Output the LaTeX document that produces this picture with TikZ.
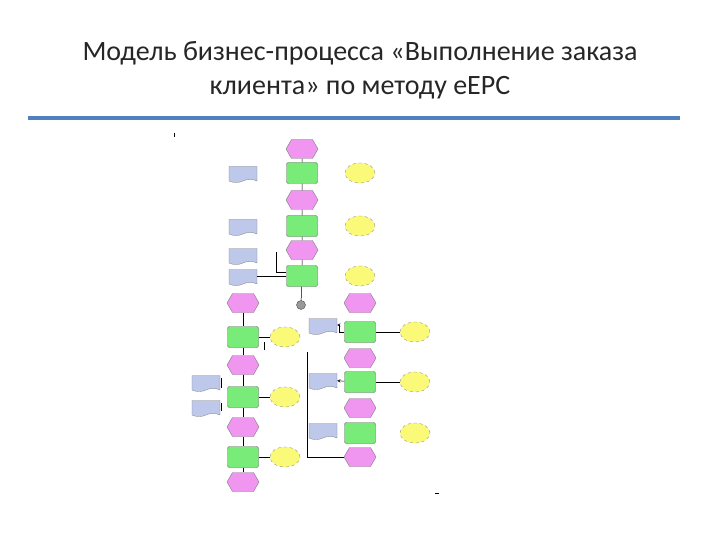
\documentclass[tikz,border=0pt]{standalone}
\usepackage{fontspec}
\setmainfont{Carlito}
\usetikzlibrary{shapes.symbols,shapes.geometric}
\definecolor{ev}{RGB}{240,150,240}
\definecolor{fn}{RGB}{120,235,120}
\definecolor{el}{RGB}{250,250,120}
\definecolor{dc}{RGB}{190,200,235}
\definecolor{bar}{RGB}{79,129,189}
\begin{document}
\begin{tikzpicture}[x=1pt,y=-1pt,
 evt/.style={shape=signal,signal to=east and west,signal pointer angle=120,fill=ev,draw=black!50,line width=0.4pt,minimum width=32pt,minimum height=19pt,inner sep=0pt},
 fun/.style={rounded corners=2pt,fill=fn,draw=black!60,line width=0.4pt,minimum width=31pt,minimum height=21pt,inner sep=0pt},
 ell/.style={ellipse,fill=el,draw=black!50,dashed,line width=0.3pt,minimum width=30pt,minimum height=20pt,inner sep=0pt},
 doc/.style={tape,tape bend top=none,tape bend height=3pt,fill=dc,draw=black!50,line width=0.3pt,minimum width=28pt,minimum height=16pt,inner sep=0pt},
 ln/.style={draw=black,line width=0.5pt}]
\useasboundingbox (0,0) rectangle (720,540);
\node[text=black!85] (t1) at (360,53) {\fontsize{28}{32}\selectfont Модель бизнес-процесса «Выполнение заказа};
\node[text=black!85] (t2) at (360,88) {\fontsize{28}{32}\selectfont клиента» по методу еEPC};
\fill[bar] (28,116) rectangle (680,120);
% main column
\node[evt] (e1) at (302,149) {};
\node[fun] (f1) at (302,173) {};
\node[evt] (e2) at (302,200) {};
\node[fun] (f2) at (302,226) {};
\node[evt] (e3) at (302,250) {};
\node[fun] (f3) at (302,276) {};
\node[circle,fill=black!40,draw=black!70,minimum size=9pt,inner sep=0pt] (c) at (301,305) {};
\node[doc] (d1) at (243,173) {};
\node[doc] (d2) at (243,226) {};
\node[doc] (d3) at (243,255) {};
\node[doc] (d4) at (243,276) {};
\node[ell] (y1) at (360,173) {};
\node[ell] (y2) at (360,226) {};
\node[ell] (y3) at (360,276) {};
\draw[ln] (e1)--(f1)--(e2)--(f2)--(e3)--(f3)--(c);
\draw[ln] (d4)--(f3);
\draw[ln] (f3.west)++(0,-4) -- ++(-10,0) -- ++(0,-20);
% left branch
\node[evt] (e4) at (243,303) {};
\node[fun] (f4) at (243,337) {};
\node[evt] (e5) at (243,365) {};
\node[fun] (f5) at (243,397) {};
\node[evt] (e6) at (243,427) {};
\node[fun] (f6) at (243,457) {};
\node[evt] (e7) at (243,482) {};
\node[ell] (y4) at (285,337) {};
\node[ell] (y5) at (285,397) {};
\node[ell] (y6) at (285,457) {};
\node[doc] (d5) at (206,382) {};
\node[doc] (d6) at (206,407) {};
\draw[ln] (e4)--(f4)--(e5)--(f5)--(e6)--(f6)--(e7);
\draw[ln] (f4)--(y4); \draw[ln] (f5)--(y5); \draw[ln] (f6)--(y6);
\draw[ln] (d5.east)++(1,-4)--++(0,10); \draw[ln] (d6.east)++(1,-4)--++(0,8);
\draw[ln] (264,342)--(264,350);
% right branch
\node[evt] (e8) at (360,303) {};
\node[fun] (f7) at (360,332) {};
\node[evt] (e9) at (360,358) {};
\node[fun] (f8) at (360,382) {};
\node[evt] (e10) at (360,408) {};
\node[fun] (f9) at (360,433) {};
\node[evt] (e11) at (360,457) {};
\node[doc] (d7) at (323,325) {};
\node[doc] (d8) at (323,380) {};
\node[doc] (d9) at (323,430) {};
\node[ell] (y7) at (415,332) {};
\node[ell] (y8) at (415,382) {};
\node[ell] (y9) at (415,433) {};
\draw[ln] (f7)--(y7); \draw[ln] (f8)--(y8);
\draw[ln,->,>=stealth] (f7.west) -- ++(-5,0) |- (d7.east);
\draw[ln,->,>=stealth] (f8) -- (d8);
\coordinate (vt) at (307,352);
\draw[ln] (vt) |- (e11.west);
\draw[ln] (174,133)--(174,137);
\draw[ln] (435,493)--(439,493);
\end{tikzpicture}
\end{document}
